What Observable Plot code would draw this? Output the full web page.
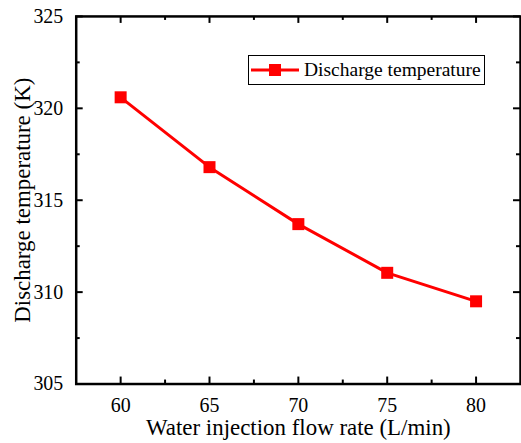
<!DOCTYPE html>
<html><head><meta charset="utf-8">
<script src="https://cdn.jsdelivr.net/npm/d3@7"></script>
<script src="https://cdn.jsdelivr.net/npm/@observablehq/plot@0.6"></script>
<style>
html,body{margin:0;padding:0;overflow:hidden;background:#fff;}
#wrap{position:relative;width:521px;height:443px;overflow:hidden;}
#wrap svg text{font-family:"Liberation Serif",serif;}
#legend{position:absolute;left:248px;top:55px;width:235px;height:28px;border:1.5px solid #000;background:#fff;
  font-family:"Liberation Serif",serif;font-size:19.5px;color:#000;display:flex;align-items:center;white-space:nowrap;}
#legend svg{display:block;margin-left:2px;margin-right:5px;flex:none;}
</style></head><body><div id="wrap"></div>
<script>
const flowRate = [60, 65, 70, 75, 80];
const dischargeTemp = [320.6, 316.8, 313.7, 311.05, 309.5];
const xMajor = [60, 65, 70, 75, 80];
const xMinor = [62.5, 67.5, 72.5, 77.5];
const yMajor = [305, 310, 315, 320, 325];
const yMinor = [307.5, 312.5, 317.5, 322.5];
const xLabel = "Water injection flow rate (L/min)";
const yLabel = "Discharge temperature (K)";
const seriesName = "Discharge temperature";

const data = flowRate.map((x, i) => ({x, y: dischargeTemp[i]}));

const W = 523, H = 443, mL = 76, mR = 1, mT = 16, mB = 58;
const pw = W - mL - mR, ph = H - mT - mB;
const FF = "Liberation Serif";

const chart = Plot.plot({
  width: W, height: H,
  marginLeft: mL, marginRight: mR, marginTop: mT, marginBottom: mB,
  style: {fontFamily: "'Liberation Serif', serif", fontSize: "20px", color: "#000", background: "#fff"},
  x: {domain: [57.5, 82.5]},
  y: {domain: [305, 325]},
  marks: [
    Plot.line(data, {x: "x", y: "y", stroke: "#ff0000", strokeWidth: 3}),
    Plot.dot(data, {x: "x", y: "y", symbol: "square", fill: "#ff0000", r: 6.8}),
    Plot.tickX(xMajor, {x: d => d, insetTop: ph - 7, stroke: "#000", strokeWidth: 2}),
    Plot.tickX(xMajor, {x: d => d, insetBottom: ph - 7, stroke: "#000", strokeWidth: 2}),
    Plot.tickX(xMinor, {x: d => d, insetTop: ph - 4, stroke: "#000", strokeWidth: 2}),
    Plot.tickX(xMinor, {x: d => d, insetBottom: ph - 4, stroke: "#000", strokeWidth: 2}),
    Plot.tickY(yMajor, {y: d => d, insetRight: pw - 7, stroke: "#000", strokeWidth: 2}),
    Plot.tickY(yMajor, {y: d => d, insetLeft: pw - 7, stroke: "#000", strokeWidth: 2}),
    Plot.tickY(yMinor, {y: d => d, insetRight: pw - 4, stroke: "#000", strokeWidth: 2}),
    Plot.tickY(yMinor, {y: d => d, insetLeft: pw - 4, stroke: "#000", strokeWidth: 2}),
    Plot.frame({stroke: "#000", strokeWidth: 2.5}),
    Plot.axisX({ticks: xMajor, tickSize: 0, tickPadding: 14, label: null, fontSize: 20, fontFamily: FF, fill: "#000", tickFormat: d => String(d)}),
    Plot.axisY({ticks: yMajor, tickSize: 0, tickPadding: 13, label: null, fontSize: 20, fontFamily: FF, fill: "#000", tickFormat: d => String(d)}),
    Plot.text([xLabel], {frameAnchor: "bottom", dy: 44, lineAnchor: "middle", textAnchor: "middle", text: d => d, fontSize: 23, fontFamily: FF, fill: "#000"}),
    Plot.text([yLabel], {frameAnchor: "left", dx: -54, rotate: -90, lineAnchor: "middle", textAnchor: "middle", text: d => d, fontSize: 23, fontFamily: FF, fill: "#000"})
  ]
});

const wrap = document.getElementById("wrap");
wrap.appendChild(chart);

const legend = document.createElement("div");
legend.id = "legend";
legend.innerHTML = `<svg width="48" height="14"><line x1="0" y1="7" x2="48" y2="7" stroke="#ff0000" stroke-width="3"/><rect x="18" y="1" width="12" height="12" fill="#ff0000"/></svg><span></span>`;
legend.querySelector("span").textContent = seriesName;
wrap.appendChild(legend);
</script>
</body></html>
